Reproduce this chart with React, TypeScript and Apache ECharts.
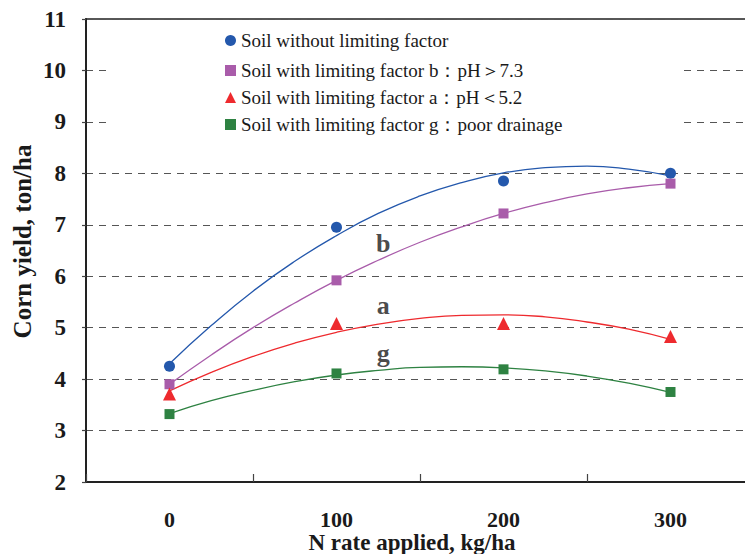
import React, { useEffect, useRef } from "react";
import * as echarts from "echarts";

const nRates = [0, 100, 200, 300];
const yieldNone = [4.25, 6.95, 7.85, 8.0];
const yieldB = [3.9, 5.92, 7.22, 7.8];
const yieldA = [3.71, 5.08, 5.08, 4.83];
const yieldG = [3.32, 4.11, 4.19, 3.75];

const trendX = [0, 25, 50, 75, 100, 125, 150, 175, 200, 225, 250, 275, 300];
const trendNone = [4.3, 5.04, 5.71, 6.29, 6.79, 7.22, 7.56, 7.82, 8.01, 8.11, 8.14, 8.08, 7.95];
const trendB = [3.9, 4.47, 5.0, 5.48, 5.92, 6.31, 6.66, 6.96, 7.22, 7.43, 7.6, 7.72, 7.8];
const trendA = [3.77, 4.13, 4.44, 4.7, 4.91, 5.07, 5.18, 5.24, 5.25, 5.21, 5.11, 4.97, 4.77];
const trendG = [3.33, 3.58, 3.78, 3.95, 4.08, 4.17, 4.23, 4.24, 4.22, 4.16, 4.06, 3.92, 3.74];

const letters = ["b", "a", "g"];
const letterX = [128, 128, 128];
const letterY = [6.64, 5.43, 4.5];

const seriesNames = [
  "Soil without limiting factor",
  "Soil with limiting factor b：pH＞7.3",
  "Soil with limiting factor a：pH＜5.2",
  "Soil with limiting factor g：poor drainage",
];
const colors = ["#2458AC", "#A95CAA", "#EE2A2E", "#2E8242"];
const symbols = ["circle", "rect", "triangle", "rect"];
const symbolSizes = [11, 10, 13, 10];
const legendTops = [31, 61, 88, 115];

const serif = "Liberation Serif";

export default function App() {
  const ref = useRef<HTMLDivElement>(null);
  useEffect(() => {
    if (!ref.current) return;
    const chart = echarts.init(ref.current, undefined, { renderer: "svg" });
    const pointSets = [yieldNone, yieldB, yieldA, yieldG];
    const trendSets = [trendNone, trendB, trendA, trendG];
    const series: any[] = [];
    trendSets.forEach((t, i) => {
      series.push({
        name: "trend" + i,
        type: "line",
        data: trendX.map((x, j) => [x, t[j]]),
        smooth: true,
        showSymbol: false,
        symbol: "none",
        lineStyle: { color: colors[i], width: 1.3 },
        z: 2,
      });
    });
    pointSets.forEach((p, i) => {
      series.push({
        name: seriesNames[i],
        type: "scatter",
        data: nRates.map((x, j) => [x, p[j]]),
        symbol: symbols[i],
        symbolSize: symbolSizes[i],
        itemStyle: { color: colors[i], opacity: 1 },
        z: 3,
      });
    });
    series.push({
      name: "letters",
      type: "scatter",
      data: letters.map((l, i) => ({ value: [letterX[i], letterY[i]], name: l })),
      symbolSize: 0,
      label: {
        show: true,
        position: "inside",
        formatter: (p: any) => p.name,
        fontFamily: serif,
        fontWeight: "bold",
        fontSize: 26,
        color: "#1a1a1a",
      },
      z: 4,
    });

    chart.setOption({
      animation: false,
      backgroundColor: "#fff",
      textStyle: { fontFamily: serif },
      grid: {
        left: 86,
        top: 19,
        width: 668,
        height: 463,
        outerBoundsMode: "none",
        containLabel: false,
        show: true,
        borderColor: "#222",
        borderWidth: 1.5,
        backgroundColor: "transparent",
      },
      graphic: [
        { type: "rect", shape: { x: 112, y: 27, width: 572, height: 112 }, style: { fill: "#fff" }, z: 1 },
      ],
      legend: seriesNames.map((n, i) => ({
        data: [n],
        left: 225,
        top: legendTops[i],
        padding: 0,
        itemWidth: 11,
        itemHeight: 11,
        selectedMode: false,
        textStyle: { fontFamily: serif, fontSize: 19, color: "#1a1a1a" },
      })),
      xAxis: [
        {
          type: "value",
          min: -50,
          max: 350,
          interval: 100,
          axisLine: { show: true, onZero: false, lineStyle: { color: "#222", width: 2 } },
          axisTick: { show: true, inside: true, length: 8, lineStyle: { color: "#444", width: 1.2 } },
          axisLabel: { show: false },
          splitLine: { show: false },
        },
        {
          type: "value",
          min: -50,
          max: 350,
          interval: 50,
          position: "bottom",
          axisLine: { show: false, onZero: false },
          axisTick: { show: false },
          splitLine: { show: false },
          axisLabel: {
            margin: 26,
            formatter: (v: number) => (v % 100 === 0 ? String(v) : ""),
            fontFamily: serif,
            fontWeight: "bold",
            fontSize: 22,
            color: "#1a1a1a",
          },
          name: "N rate applied, kg/ha",
          nameLocation: "middle",
          nameGap: 49,
          nameMoveOverlap: false,
          nameTextStyle: {
            fontFamily: serif,
            fontWeight: "bold",
            fontSize: 23,
            color: "#1a1a1a",
            padding: [0, 16, 0, 0],
          },
        },
      ],
      yAxis: {
        type: "value",
        min: 2,
        max: 11,
        interval: 1,
        axisLine: { show: true, onZero: false, lineStyle: { color: "#222", width: 2 } },
        axisTick: { show: true, length: 4, lineStyle: { color: "#444", width: 1.2 } },
        axisLabel: { margin: 20, fontFamily: serif, fontWeight: "bold", fontSize: 23, color: "#1a1a1a" },
        splitLine: { show: true, lineStyle: { color: "#555", width: 1.2, type: [7, 6] } },
        name: "Corn yield, ton/ha",
        nameLocation: "middle",
        nameGap: 51,
        nameMoveOverlap: false,
        nameTextStyle: {
          fontFamily: serif,
          fontWeight: "bold",
          fontSize: 25,
          color: "#1a1a1a",
          padding: [0, 0, 0, 18],
        },
      },
      series,
    });
    return () => chart.dispose();
  }, []);
  return (
    <div
      ref={ref}
      style={{ position: "fixed", left: 0, top: 0, width: 745, height: 554, overflow: "hidden", background: "#fff" }}
    />
  );
}
